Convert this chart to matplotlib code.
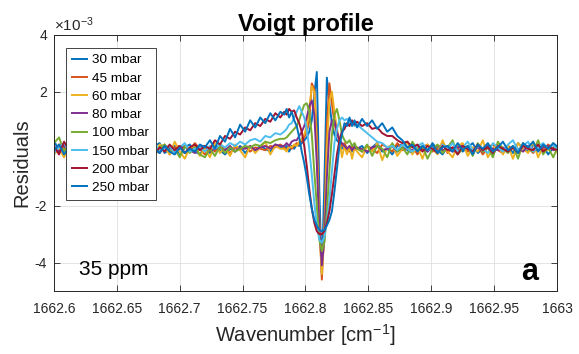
import numpy as np
import matplotlib
matplotlib.use("Agg")
import matplotlib.pyplot as plt

plt.rcParams['font.family'] = ['Liberation Sans', 'DejaVu Sans']
plt.rcParams['mathtext.default'] = 'regular'
plt.rcParams['axes.unicode_minus'] = False

# wavenumber grid: coarse far from the line, finer across the line centre
wn = np.concatenate([1662.600 + 0.004*np.arange(46),
                     1662.783 + 0.002*np.arange(30),
                     1662.845 + 0.004*np.arange(40)])

labels = ['30 mbar', '45 mbar', '60 mbar', '80 mbar', '100 mbar', '150 mbar', '200 mbar', '250 mbar']
colors = ['#0072BD', '#D95319', '#EDB120', '#7E2F8E', '#77AC30', '#4DBEEE', '#A2142F', '#0072BD']

# residuals in units of 1e-3
res30 = [0.30, -0.10, 0.20, -0.20, 0.10, -0.05, 0.15, -0.25, 0.05, 0.20,
         -0.15, 0.10, -0.05, 0.25, -0.20, 0.00, 0.15, -0.10, 0.05, -0.20,
         0.10, 0.20, -0.15, 0.00, 0.10, -0.25, 0.05, 0.15, -0.10, -0.20,
         0.05, -0.15, 0.10, -0.05, -0.20, 0.00, -0.10, 0.10, -0.15, 0.05,
         -0.05, 0.10, 0.00, -0.10, 0.15, 0.05,
         0.0, 0.1, -0.1, 0.1, 0.0, 0.15, 0.1, 0.2, 0.3, 0.4,
         0.6, 1.0, 1.9, 2.7, -1.5, -4.4, -1.2, 2.5, 1.6, 0.9,
         0.5, 0.3, 0.2, 0.0, 0.1, -0.1, 0.05, -0.1, 0.1, 0.0,
         0.1, -0.15, 0.05, 0.2, -0.1, 0.0, -0.2, 0.1, 0.15, -0.05,
         -0.15, 0.1, 0.05, -0.1, 0.2, -0.05, -0.2, 0.1, 0.0, 0.15,
         -0.1, 0.05, 0.2, -0.15, 0.0, 0.1, -0.2, 0.15, -0.05, 0.1,
         -0.15, 0.2, 0.0, -0.1, 0.15, -0.05, 0.1, -0.2, 0.05, 0.1]

res45 = [-0.10, 0.15, 0.05, -0.20, 0.10, 0.25, -0.05, 0.00, -0.15, 0.10,
         0.05, -0.20, 0.15, 0.00, -0.10, 0.20, -0.05, -0.15, 0.10, 0.05,
         -0.10, 0.00, 0.15, -0.20, 0.05, 0.10, -0.15, -0.05, 0.20, 0.00,
         -0.20, 0.05, -0.10, 0.15, 0.00, -0.15, 0.05, -0.05, 0.10, -0.10,
         0.05, 0.00, -0.05, 0.10, 0.05, 0.15,
         0.05, -0.05, 0.1, 0.0, 0.1, 0.2, 0.15, 0.3, 0.4, 0.6,
         1.0, 2.3, 2.1, 0.5, -2.5, -4.6, -2.8, 0.8, 2.3, 1.6,
         0.9, 0.5, 0.3, 0.1, 0.2, 0.0, -0.1, 0.1, -0.05, 0.05,
         -0.1, 0.1, 0.0, -0.15, 0.15, 0.05, -0.1, 0.2, -0.05, 0.0,
         0.1, -0.2, 0.05, 0.15, -0.1, 0.0, 0.2, -0.15, 0.05, -0.05,
         0.15, -0.1, 0.0, 0.1, -0.2, 0.05, 0.15, -0.05, -0.15, 0.1,
         0.0, -0.1, 0.15, 0.05, -0.15, 0.1, -0.05, 0.15, 0.0, -0.1]

res60 = [-0.20, 0.00, -0.30, 0.10, -0.15, 0.20, -0.25, 0.05, 0.30, -0.10,
         0.15, -0.20, 0.05, 0.35, -0.15, -0.05, 0.20, -0.25, 0.10, 0.00,
         -0.30, 0.15, 0.05, -0.20, 0.25, -0.10, -0.35, 0.05, 0.10, -0.25,
         0.00, -0.30, 0.20, -0.15, 0.05, -0.25, 0.15, -0.05, -0.30, 0.10,
         -0.15, 0.05, 0.25, -0.20, 0.10, 0.00,
         0.0, -0.1, 0.1, 0.05, 0.15, 0.1, 0.25, 0.35, 0.5, 0.8,
         1.4, 2.2, 2.0, 0.0, -2.8, -4.4, -3.0, 0.0, 1.7, 2.0,
         1.3, 0.7, 0.3, -0.3, 0.1, -0.2, 0.1, -0.35, 0.05, -0.1,
         -0.3, 0.1, -0.1, 0.2, -0.4, 0.05, 0.15, -0.25, 0.0, 0.25,
         -0.2, 0.1, -0.35, 0.15, 0.0, -0.2, 0.3, -0.1, -0.3, 0.1,
         0.2, -0.25, 0.05, -0.1, 0.3, -0.3, 0.0, 0.15, -0.2, 0.1,
         -0.35, 0.2, 0.0, -0.15, 0.25, -0.3, 0.1, -0.05, 0.2, -0.2]

res80 = [0.05, -0.10, 0.10, 0.00, -0.15, 0.05, 0.10, -0.05, -0.10, 0.15,
         0.00, -0.05, 0.10, -0.15, 0.05, 0.00, -0.10, 0.10, 0.05, -0.05,
         0.00, -0.15, 0.10, 0.05, -0.10, 0.00, 0.10, -0.05, -0.15, 0.05,
         0.10, -0.10, 0.00, 0.05, -0.05, 0.10, -0.10, 0.05, 0.00, 0.10,
         -0.05, 0.05, 0.10, 0.00, 0.15, 0.10,
         0.1, 0.2, 0.1, 0.25, 0.3, 0.3, 0.45, 0.6, 0.8, 1.1,
         1.5, 1.7, 1.2, -0.5, -2.8, -4.1, -3.2, -1.0, 0.6, 1.0,
         1.0, 0.6, 0.3, 0.2, 0.1, 0.0, 0.1, -0.05, 0.05, 0.0,
         0.0, -0.1, 0.05, 0.1, -0.05, 0.0, 0.1, -0.1, 0.05, 0.0,
         -0.05, 0.1, 0.0, -0.1, 0.05, 0.1, -0.05, 0.0, -0.1, 0.05,
         0.1, 0.0, -0.05, 0.05, -0.1, 0.1, 0.0, -0.05, 0.05, -0.1,
         0.05, 0.0, -0.1, 0.1, 0.0, -0.05, 0.05, 0.1, -0.05, 0.0]

res100 = [0.20, 0.40, -0.10, 0.15, -0.20, 0.05, 0.35, -0.15, 0.10, 0.25,
          -0.10, 0.00, 0.30, -0.20, 0.10, 0.05, -0.15, 0.20, -0.05, 0.10,
          -0.25, 0.05, 0.15, -0.10, 0.00, -0.30, 0.10, -0.15, 0.05, -0.20,
          -0.30, 0.00, -0.25, 0.10, -0.15, 0.05, -0.10, 0.00, 0.10, 0.05,
          0.15, 0.10, 0.25, 0.20, 0.30, 0.35,
          0.35, 0.4, 0.5, 0.6, 0.7, 0.8, 1.0, 1.3, 1.55, 1.6,
          1.3, 0.5, -0.8, -2.0, -3.2, -3.6, -3.3, -2.2, -0.8, 0.5,
          1.2, 1.4, 1.0, 0.5, 0.3, 0.2, 0.3, 0.1, 0.2, 0.0,
          -0.1, 0.15, -0.25, 0.1, 0.0, -0.3, 0.2, -0.1, 0.05, -0.2,
          0.25, -0.05, 0.1, -0.35, 0.0, 0.15, -0.15, 0.05, 0.3, -0.2,
          0.0, 0.1, -0.25, 0.2, -0.1, 0.05, -0.3, 0.25, 0.0, -0.15,
          0.1, -0.35, 0.2, 0.0, -0.1, 0.3, -0.2, 0.05, -0.3, 0.1]

res150 = [-0.15, 0.05, 0.20, -0.10, 0.10, -0.05, 0.15, 0.00, -0.20, 0.10,
          0.05, -0.10, 0.20, 0.00, -0.15, 0.10, 0.25, -0.05, 0.05, -0.10,
          0.15, -0.05, 0.00, 0.10, -0.15, 0.05, 0.20, -0.10, 0.00, 0.05,
          -0.10, 0.10, 0.00, 0.15, 0.05, 0.20, 0.10, 0.25, 0.15, 0.30,
          0.35, 0.25, 0.45, 0.40, 0.55, 0.50,
          0.6, 0.7, 0.85, 0.9, 1.1, 1.3, 1.5, 1.3, 1.1, 0.7,
          0.0, -0.9, -1.9, -2.7, -3.2, -3.3, -3.1, -2.6, -1.8, -0.8,
          0.2, 0.7, 1.0, 1.1, 1.0, 1.05, 0.9, 0.95, 0.8, 0.85,
          0.7, 0.55, 0.4, 0.25, 0.2, 0.05, 0.1, -0.05, 0.15, 0.0,
          -0.1, 0.1, 0.2, -0.05, 0.05, -0.15, 0.15, 0.0, 0.2, -0.1,
          0.05, 0.25, -0.05, 0.1, 0.0, -0.15, 0.2, 0.05, -0.1, 0.15,
          0.3, -0.05, 0.1, 0.25, -0.1, 0.05, 0.2, 0.0, 0.15, -0.05]

res200 = [0.10, -0.20, 0.25, -0.05, 0.00, -0.15, 0.20, 0.05, -0.10, 0.15,
          -0.20, 0.10, 0.00, -0.10, 0.20, -0.15, 0.05, -0.25, 0.10, 0.00,
          -0.20, 0.05, -0.10, 0.15, -0.05, 0.10, -0.15, 0.05, 0.15, -0.05,
          0.10, 0.00, 0.30, 0.15, 0.45, 0.35, 0.60, 0.50, 0.75, 0.65,
          0.90, 0.80, 1.05, 0.95, 1.25, 1.10,
          1.3, 1.2, 1.4, 1.3, 1.35, 1.1, 0.9, 0.6, 0.1, -0.6,
          -1.4, -2.1, -2.6, -2.9, -3.0, -3.0, -2.9, -2.6, -2.2, -1.6,
          -0.9, -0.2, 0.3, 0.6, 0.7, 0.9, 0.8, 1.0, 0.85, 0.95,
          0.8, 0.9, 0.7, 0.75, 0.55, 0.45, 0.45, 0.3, 0.2, 0.25,
          0.05, 0.15, -0.1, 0.1, 0.0, -0.15, 0.1, -0.05, 0.05, -0.2,
          0.1, 0.0, -0.1, 0.15, -0.05, 0.05, -0.15, 0.1, 0.0, -0.1,
          0.05, -0.15, 0.1, 0.0, -0.05, 0.15, -0.1, 0.05, 0.0, -0.05]

res250 = [-0.05, 0.15, -0.20, 0.05, 0.10, -0.15, 0.00, 0.20, -0.10, 0.05,
          -0.25, 0.10, 0.00, -0.15, 0.15, -0.05, -0.20, 0.05, 0.10, -0.25,
          0.00, -0.15, 0.10, -0.10, -0.20, 0.05, -0.15, 0.00, -0.10, 0.15,
          0.05, 0.30, 0.00, 0.45, 0.25, 0.70, 0.40, 0.85, 0.60, 1.00,
          0.75, 1.10, 0.90, 1.25, 1.00, 1.30,
          1.2, 1.4, 1.1, 1.3, 1.0, 0.8, 0.4, -0.1, -0.5, -1.0,
          -1.6, -2.1, -2.5, -2.7, -2.85, -2.9, -2.85, -2.7, -2.5, -2.2,
          -1.5, -0.7, 0.1, 0.5, 0.9, 0.8, 1.1, 0.8, 1.0, 0.75,
          1.05, 0.8, 1.0, 0.7, 0.9, 0.6, 0.75, 0.45, 0.3, 0.05,
          0.15, -0.1, 0.1, -0.05, 0.15, -0.15, 0.05, 0.1, -0.1, 0.2,
          -0.05, 0.1, -0.2, 0.15, 0.0, 0.2, -0.1, 0.05, 0.25, -0.05,
          0.1, -0.15, 0.2, 0.05, 0.25, -0.1, 0.15, 0.0, 0.2, 0.05]

series = [res30, res45, res60, res80, res100, res150, res200, res250]

xticks = [1662.6, 1662.65, 1662.7, 1662.75, 1662.8, 1662.85, 1662.9, 1662.95, 1663.0]
xticklabels = ['1662.6', '1662.65', '1662.7', '1662.75', '1662.8', '1662.85', '1662.9', '1662.95', '1663']
yticks = [-4, -2, 2, 4]

fig = plt.figure(figsize=(5.79, 3.54), dpi=100)
ax = fig.add_axes([54/579, 1-291/354, 503/579, 256/354])

for vals, lab, col in zip(series, labels, colors):
    ax.plot(wn, vals, color=col, lw=1.4, label=lab)

ax.set_xlim(1662.6, 1663.0)
ax.set_ylim(-5, 4)
ax.set_xticks(xticks)
ax.set_xticklabels(xticklabels)
ax.set_yticks(yticks)
ax.grid(True, color='#dfdfdf', lw=0.6)
ax.set_axisbelow(True)
ax.tick_params(direction='in', top=True, right=True, labelsize=10,
               colors='#262626', length=4, width=0.6)
ax.tick_params(axis='x', pad=8)
ax.tick_params(axis='y', pad=5)
for sp in ax.spines.values():
    sp.set_color('#262626')
    sp.set_linewidth(0.7)

ax.set_title('Voigt profile', fontsize=17, fontweight='bold', pad=3)
ax.set_xlabel('Wavenumber [cm$^{-1}$]', fontsize=14.5, color='#262626', labelpad=4)
ax.set_ylabel('Residuals', fontsize=14.5, color='#262626', labelpad=2)

ax.text(0.0, 1 + 4/256, r'$\times$10$^{-3}$', transform=ax.transAxes, fontsize=11,
        color='#262626', va='baseline', ha='left')
ax.text(0.05, 0.085, '35 ppm', transform=ax.transAxes, fontsize=15, va='center', ha='left')
ax.text(0.962, 0.075, 'a', transform=ax.transAxes, fontsize=22, fontweight='bold',
        va='center', ha='right')

leg = ax.legend(loc='upper left', bbox_to_anchor=(12/503, 1-13/256), borderaxespad=0,
                fontsize=9.7, handlelength=1.1, handletextpad=0.4, labelspacing=0.43,
                borderpad=0.45, fancybox=False, framealpha=1, edgecolor='#262626')
leg.get_frame().set_linewidth(0.6)

fig.savefig('out.png', dpi=100)
